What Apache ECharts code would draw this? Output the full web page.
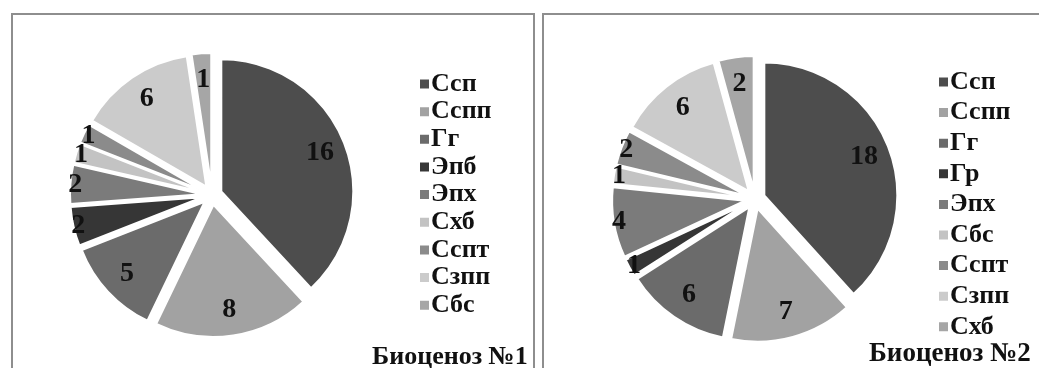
<!DOCTYPE html>
<html>
<head>
<meta charset="utf-8">
<script src="https://cdn.jsdelivr.net/npm/echarts@6/dist/echarts.min.js"></script>
<style>
  html, body { margin: 0; padding: 0; background: #fff; width: 1039px; height: 368px; overflow: hidden; }
  .panel { position: absolute; top: 13px; height: 400px; border: 2px solid #8e8e8e; background: #fff; }
  #p1 { left: 11px; width: 520px; }
  #p2 { left: 542px; width: 520px; }
</style>
</head>
<body>
<div id="p1" class="panel"></div>
<div id="p2" class="panel"></div>
<script>
// Биоценоз №1
const names1 = ['Ссп', 'Сспп', 'Гг', 'Эпб', 'Эпх', 'Схб', 'Сспт', 'Сзпп', 'Сбс'];
const values1 = [16, 8, 5, 2, 2, 1, 1, 6, 1];
// Биоценоз №2
const names2 = ['Ссп', 'Сспп', 'Гг', 'Гр', 'Эпх', 'Сбс', 'Сспт', 'Сзпп', 'Схб'];
const values2 = [18, 7, 6, 1, 4, 1, 2, 6, 2];

// grey palette, assigned by slice order
const palette = ['#4d4d4d', '#a2a2a2', '#6b6b6b', '#363636', '#7b7b7b', '#c3c3c3', '#8b8b8b', '#cbcbcb', '#a6a6a6'];

// slices whose numbers sit near the rim
const rimLabels1 = ['Эпб', 'Эпх', 'Схб', 'Сспт'];
const rimLabels2 = ['Гр', 'Эпх', 'Сбс', 'Сспт'];

const serif = '"Liberation Serif", "Times New Roman", serif';

function buildOption(names, values, rimNames, cfg) {
  const R = cfg.radius;
  const base = names.map((n, i) => ({ name: n, value: values[i], selected: true }));
  const labelStyle = { show: true, position: 'inside', formatter: '{c}', color: '#111',
    fontFamily: serif, fontWeight: 'bold', fontSize: 28 };
  const common = {
    type: 'pie', center: cfg.center, startAngle: 90, clockwise: true,
    selectedMode: 'multiple', selectedOffset: 10, animation: false,
    avoidLabelOverlap: false, labelLayout: { hideOverlap: false },
    emphasis: { disabled: true }, labelLine: { show: false }
  };
  return {
    animation: false,
    color: palette,
    legend: {
      orient: 'vertical', left: cfg.legendLeft, top: cfg.legendTop,
      itemWidth: 11, itemHeight: 11, itemGap: cfg.legendGap, icon: 'rect',
      selectedMode: false,
      textStyle: { fontFamily: serif, fontWeight: 'bold', fontSize: 26, color: '#111', padding: [0, 0, 0, -4] },
      data: names.map((n, i) => ({ name: n, itemStyle: { color: palette[i] } }))
    },
    title: {
      text: cfg.title, left: cfg.titleLeft, top: cfg.titleTop,
      textStyle: { fontFamily: serif, fontWeight: 'bold', fontSize: cfg.titleSize, color: '#111' }
    },
    series: [
      Object.assign({}, common, {
        name: 'slices', radius: [0, R],
        itemStyle: { borderColor: '#fff', borderWidth: 2 },
        label: { show: false },
        data: base
      }),
      Object.assign({}, common, {
        name: 'labels', radius: [R * 0.56, R], silent: true,
        itemStyle: { color: 'rgba(0,0,0,0)', borderWidth: 0 },
        data: base.map(d => Object.assign({}, d, {
          label: Object.assign({}, labelStyle, { show: rimNames.indexOf(d.name) < 0 })
        }))
      }),
      Object.assign({}, common, {
        name: 'rimLabels', radius: [R * 0.88, R], silent: true,
        itemStyle: { color: 'rgba(0,0,0,0)', borderWidth: 0 },
        data: base.map(d => Object.assign({}, d, {
          label: Object.assign({}, labelStyle, { show: rimNames.indexOf(d.name) >= 0 })
        }))
      })
    ]
  };
}

const c1 = echarts.init(document.getElementById('p1'), null, { renderer: 'canvas' });
c1.setOption(buildOption(names1, values1, rimLabels1, {
  radius: 132, center: [199, 180],
  legendLeft: 400, legendTop: 51, legendGap: 1.65,
  title: 'Биоценоз №1', titleLeft: 354, titleTop: 324, titleSize: 26
}));

const c2 = echarts.init(document.getElementById('p2'), null, { renderer: 'canvas' });
c2.setOption(buildOption(names2, values2, rimLabels2, {
  radius: 133, center: [211, 184],
  legendLeft: 388, legendTop: 49, legendGap: 4.6,
  title: 'Биоценоз №2', titleLeft: 320, titleTop: 321, titleSize: 27
}));
</script>
</body>
</html>
